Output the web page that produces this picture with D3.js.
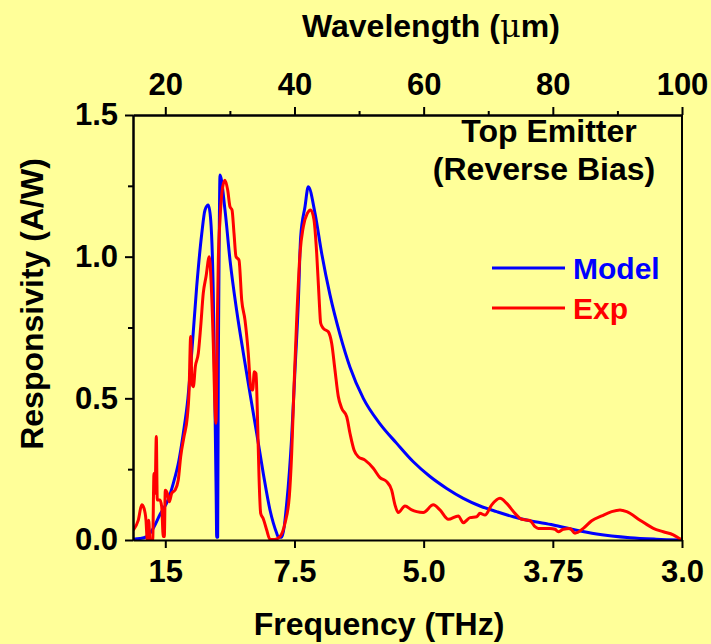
<!DOCTYPE html>
<html lang="en">
<head>
<meta charset="UTF-8">
<title>Responsivity</title>
<script src="https://d3js.org/d3.v7.min.js"></script>
<style>
  body { margin: 0; background: #FFFF99; }
  svg { display: block; font-family: "Liberation Sans", Arial, sans-serif; font-weight: bold; }
  .axis path, .axis line { stroke: #000; stroke-width: 2px; }
  .axis text { font-size: 31px; font-weight: bold; fill: #000; font-family: "Liberation Sans", Arial, sans-serif; }
  .title { font-size: 32px; fill: #000; }
  .line { fill: none; stroke-width: 3px; stroke-linejoin: round; }
</style>
</head>
<body>
<div id="chart"></div>
<script>

// model curve: wavelength (um) and responsivity (A/W)
var modelWl = [15.0, 16.1, 17.12, 18.1, 19.18, 20.4, 21.24, 22.1, 22.79, 23.5, 24.09, 24.86, 25.64, 26.15, 26.66, 27.03, 27.43,
  27.7, 27.88, 27.96, 28.11, 28.21, 28.36, 28.47, 29.24, 30.02, 31.05, 32.08, 33.11, 34.15, 35.17, 36.21, 37.25,
  37.5, 38.02, 38.8, 39.57, 40.08, 40.59, 40.96, 41.63, 42.14, 43.18, 44.21, 45.5, 47.05, 48.6, 50.66, 53.24,
  55.83, 58.4, 60.98, 63.57, 66.14, 68.72, 71.31, 73.88, 76.46, 80.07, 83.5, 86.79, 91.95, 96.0, 100.0];
var modelR = [0.003, 0.005, 0.012, 0.04, 0.09, 0.14, 0.2, 0.28, 0.377, 0.5, 0.66, 0.894, 1.08, 1.165, 1.182, 1.13, 0.87,
  0.46, 0.15, 0.01, 0.01, 0.63, 1.1, 1.288, 1.165, 0.988, 0.81, 0.66, 0.518, 0.377, 0.235, 0.106, 0.024,
  0.01, 0.01, 0.13, 0.365, 0.6, 0.835, 1.07, 1.176, 1.247, 1.153, 1.012, 0.865, 0.725, 0.61, 0.5, 0.41,
  0.341, 0.276, 0.224, 0.182, 0.147, 0.12, 0.1, 0.082, 0.068, 0.053, 0.035, 0.021, 0.008, 0.003, 0.0];

// experimental curve
var expWl = [15.05, 15.82, 16.35, 16.7, 17.01, 17.21, 17.43, 17.63, 18.05, 18.25, 18.41, 18.61, 18.76, 19.18, 19.44,
  19.69, 19.85, 20.0, 20.31, 20.62, 20.99, 21.5, 22.01, 22.38, 22.9, 23.41, 23.67, 23.93, 24.13, 24.34, 24.65,
  25.11, 25.48, 25.88, 26.3, 26.81, 27.08, 27.43, 27.7, 27.85, 28.05, 28.21, 28.47, 28.89, 29.24, 29.66, 30.02,
  30.33, 30.64, 30.95, 31.41, 31.83, 32.34, 32.85, 33.22, 33.53, 33.78, 34.04, 34.31, 34.51, 34.77, 35.17, 35.7,
  36.21, 36.98, 37.76, 38.53, 39.2, 39.57, 39.93, 40.34, 40.86, 41.37, 41.99, 42.51, 43.02, 43.44, 43.8, 44.06,
  44.46, 45.24, 45.76, 46.27, 46.79, 47.31, 48.09, 48.6, 49.22, 49.88, 50.92, 52.2, 53.24, 54.28, 55.05, 55.56,
  56.07, 57.11, 58.15, 58.92, 59.94, 61.49, 62.53, 63.82, 65.36, 66.14, 67.18, 68.21, 68.72, 69.5, 70.54, 71.82,
  72.86, 74.14, 75.18, 76.46, 77.24, 77.75, 79.56, 80.34, 80.85, 81.62, 82.66, 83.43, 84.72, 86.02, 87.57, 89.11,
  90.4, 91.44, 93.5, 95.56, 97.11, 98.65, 99.69, 100.0];
var expR = [0.035, 0.07, 0.124, 0.112, 0.07, 0.0, 0.07, 0.0, 0.0, 0.235, 0.165, 0.365, 0.141, 0.141, 0.118,
  0.012, 0.012, 0.176, 0.165, 0.135, 0.165, 0.176, 0.212, 0.294, 0.365, 0.435, 0.518, 0.718, 0.553, 0.541, 0.612,
  0.659, 0.753, 0.871, 0.929, 1.0, 0.918, 0.694, 0.459, 0.412, 0.753, 0.988, 1.13, 1.247, 1.27, 1.235, 1.176,
  1.165, 1.082, 1.0, 0.988, 0.847, 0.776, 0.659, 0.541, 0.529, 0.594, 0.588, 0.4, 0.224, 0.094, 0.075, 0.035,
  0.002, 0.002, 0.012, 0.059, 0.153, 0.306, 0.541, 0.776, 1.012, 1.106, 1.153, 1.165, 1.13, 1.012, 0.859, 0.765,
  0.747, 0.735, 0.694, 0.6, 0.506, 0.465, 0.435, 0.376, 0.318, 0.294, 0.282, 0.253, 0.22, 0.206, 0.176, 0.124,
  0.097, 0.12, 0.106, 0.1, 0.097, 0.124, 0.106, 0.073, 0.085, 0.061, 0.079, 0.082, 0.094, 0.088, 0.124, 0.147,
  0.129, 0.094, 0.073, 0.069, 0.047, 0.041, 0.041, 0.038, 0.029, 0.038, 0.041, 0.024, 0.041, 0.068, 0.085, 0.1,
  0.106, 0.1, 0.07, 0.041, 0.029, 0.018, 0.004, 0.0];

// tick labels
var wlTicks = [20, 40, 60, 80, 100];
var wlMinor = [30, 50, 70, 90];
var freqLabels = ["15", "7.5", "5.0", "3.75", "3.0"];
var rTicks = [0, 0.5, 1.0, 1.5];
var rMinor = [0.25, 0.75, 1.25];

// set the dimensions and margins of the graph
var margin = {top: 115, right: 29, bottom: 104, left: 133},
    width = 711 - margin.left - margin.right,
    height = 644 - margin.top - margin.bottom;

var svg = d3.select("#chart").append("svg")
    .attr("width", width + margin.left + margin.right)
    .attr("height", height + margin.top + margin.bottom)
  .append("g")
    .attr("transform", "translate(" + margin.left + "," + margin.top + ")");

var x = d3.scaleLinear().domain([15, 100]).range([0, width]);
var y = d3.scaleLinear().domain([0, 1.5]).range([height, 0]);

svg.append("clipPath").attr("id", "clip")
  .append("rect").attr("width", width).attr("height", height + 1);

// curves
var line = d3.line()
    .curve(d3.curveMonotoneX)
    .x(function(d) { return x(d[0]); })
    .y(function(d) { return y(d[1]); });

svg.append("path")
    .datum(d3.zip(modelWl, modelR))
    .attr("class", "line")
    .attr("clip-path", "url(#clip)")
    .attr("stroke", "#0000FF")
    .attr("d", line);

svg.append("path")
    .datum(d3.zip(expWl, expR))
    .attr("class", "line")
    .attr("clip-path", "url(#clip)")
    .attr("stroke", "#FF0000")
    .attr("d", line);

// bottom axis: frequency labels at wavelength positions
svg.append("g")
    .attr("class", "axis")
    .attr("transform", "translate(0," + height + ")")
    .call(d3.axisBottom(x).tickValues(wlTicks).tickSize(8).tickSizeOuter(0).tickPadding(12)
      .tickFormat(function(d, i) { return freqLabels[i]; }));

// top axis: wavelength
svg.append("g")
    .attr("class", "axis")
    .call(d3.axisTop(x).tickValues(wlMinor).tickSize(4).tickSizeOuter(0).tickFormat(""));
svg.append("g")
    .attr("class", "axis")
    .call(d3.axisTop(x).tickValues(wlTicks).tickSize(8).tickSizeOuter(0).tickPadding(12));

// left axis
svg.append("g")
    .attr("class", "axis")
    .call(d3.axisLeft(y).tickValues(rMinor).tickSize(5).tickSizeOuter(0).tickFormat(""));
svg.append("g")
    .attr("class", "axis")
    .call(d3.axisLeft(y).tickValues(rTicks).tickSize(8).tickSizeOuter(0).tickPadding(7)
      .tickFormat(d3.format(".1f")));

// right frame line
svg.append("line")
    .attr("x1", width).attr("x2", width)
    .attr("y1", 0).attr("y2", height)
    .attr("stroke", "#000").attr("stroke-width", 2);

// axis titles
svg.append("text")
    .attr("class", "title")
    .attr("x", 302 - margin.left).attr("y", 37 - margin.top)
    .html("Wavelength (<tspan font-family='DejaVu Serif' font-weight='normal'>μ</tspan>m)");

svg.append("text")
    .attr("class", "title")
    .attr("text-anchor", "middle")
    .attr("x", 379 - margin.left).attr("y", 635 - margin.top)
    .text("Frequency (THz)");

svg.append("text")
    .attr("class", "title")
    .attr("text-anchor", "middle")
    .attr("transform", "translate(" + (43 - margin.left) + "," + (304 - margin.top) + ") rotate(-90)")
    .text("Responsivity (A/W)");

// annotation
svg.append("text")
    .attr("class", "title")
    .attr("text-anchor", "middle")
    .attr("x", 549 - margin.left).attr("y", 142 - margin.top)
    .text("Top Emitter");
svg.append("text")
    .attr("class", "title")
    .attr("text-anchor", "middle")
    .attr("x", 544 - margin.left).attr("y", 180 - margin.top)
    .text("(Reverse Bias)");

// legend
var legend = [["Model", "#0000FF", 268], ["Exp", "#FF0000", 308]];
legend.forEach(function(d) {
  svg.append("line")
      .attr("x1", 492 - margin.left).attr("x2", 565 - margin.left)
      .attr("y1", d[2] - margin.top).attr("y2", d[2] - margin.top)
      .attr("stroke", d[1]).attr("stroke-width", 3);
  svg.append("text")
      .attr("x", 573 - margin.left).attr("y", d[2] - margin.top + 11)
      .attr("fill", d[1])
      .style("font-size", "30px")
      .text(d[0]);
});

</script>
</body>
</html>
